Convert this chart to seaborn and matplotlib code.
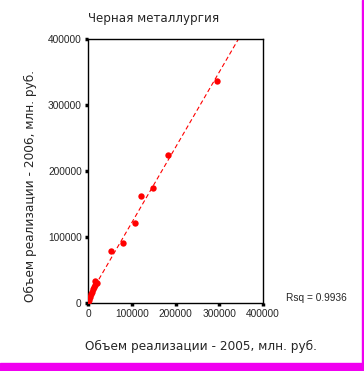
import numpy as np
import pandas as pd
import matplotlib
matplotlib.use('Agg')
import matplotlib.pyplot as plt
import seaborn as sns
from matplotlib.patches import Rectangle

# values (mln. rub.)
x_2005 = [295000, 182000, 148000, 122000, 107000, 80000, 52000,
          20000, 17000, 15000, 13000, 11000, 9000, 7000, 5000, 3000, 1000]
y_2006 = [336000, 224000, 175000, 162000, 121000, 91000, 79000,
          30000, 33000, 28000, 24000, 21000, 17000, 13000, 9000, 5000, 1000]
ticks = [0, 100000, 200000, 300000, 400000]
rsq_label = 'Rsq = 0.9936'

df = pd.DataFrame({'x': x_2005, 'y': y_2006})

sns.set_style('white')
plt.rcParams['font.family'] = ['Liberation Sans', 'DejaVu Sans']

fig = plt.figure(figsize=(3.64, 3.71), dpi=100)
ax = fig.add_axes([88 / 364, 1 - 303 / 371, 175 / 364, 264 / 371])
ax.set_xlim(0, 400000)
ax.set_ylim(0, 400000)

sns.regplot(data=df, x='x', y='y', ax=ax, ci=None, truncate=False,
            scatter_kws=dict(s=21, color='red', alpha=1, linewidths=0, zorder=3),
            line_kws=dict(color='red', lw=0.8, dashes=(4, 2.5)))
ax.set_xlim(0, 400000)
ax.set_ylim(0, 400000)

ax.set_xticks(ticks)
ax.set_yticks(ticks)
ax.set_xticklabels([str(t) for t in ticks], fontsize=7.3)
ax.set_yticklabels([str(t) for t in ticks], fontsize=7.3)
ax.tick_params(bottom=True, left=True, direction='out', length=2.5, width=2.5,
               color='black', pad=2)
for s in ax.spines.values():
    s.set_color('black')
    s.set_linewidth(1)

ax.set_xlabel('Объем реализации - 2005, млн. руб.', fontsize=8.7,
              family=['DejaVu Sans'])
ax.set_ylabel('Объем реализации - 2006, млн. руб.', fontsize=8.7,
              family=['DejaVu Sans'])
ax.xaxis.set_label_coords(0.646, -0.138)
ax.yaxis.set_label_coords(-0.291, 0.443)
ax.set_title('Черная металлургия', fontsize=8.6, family=['DejaVu Sans'],
             loc='left', pad=12)

fig.text(286 / 364, 1 - 298 / 371, rsq_label, fontsize=7.3, va='center')

# magenta frame on the right and bottom edges
fig.patches.append(Rectangle((362 / 364, 0), 2 / 364, 1, transform=fig.transFigure,
                             color='#f000f0', zorder=10))
fig.patches.append(Rectangle((0, 0), 1, 8 / 371, transform=fig.transFigure,
                             color='#f000f0', zorder=10))

fig.savefig('out.png', dpi=100)
